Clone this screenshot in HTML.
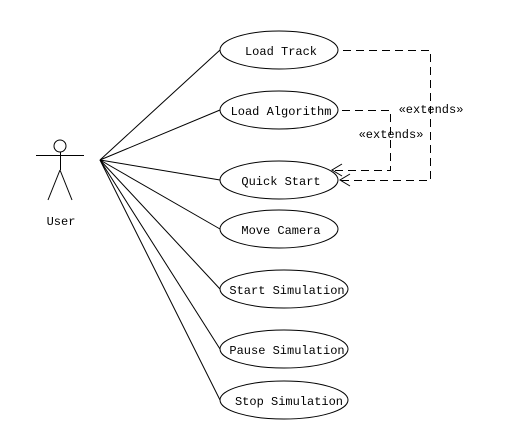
<!DOCTYPE html>
<html><head><style>body{margin:0;background:#fff}svg{display:block}text{font-family:"Liberation Mono",monospace;font-size:12px;fill:#000}</style></head><body>
<svg width="510" height="440" viewBox="0 0 510 440">
<g stroke="#000" fill="none" stroke-width="1">
<circle cx="60" cy="146" r="6"/>
<line x1="36" y1="155.5" x2="84" y2="155.5"/>
<line x1="60.5" y1="152" x2="60.5" y2="170"/>
<line x1="60" y1="170" x2="48" y2="200"/>
<line x1="60" y1="170" x2="72" y2="200"/>
<line x1="100" y1="160" x2="220" y2="50"/>
<line x1="100" y1="160" x2="220" y2="110"/>
<line x1="100" y1="160" x2="220" y2="180"/>
<line x1="100" y1="160" x2="220" y2="229"/>
<line x1="100" y1="160" x2="220" y2="289"/>
<line x1="100" y1="160" x2="220" y2="349"/>
<line x1="100" y1="160" x2="220" y2="400"/>
<ellipse cx="279" cy="50" rx="59" ry="19" fill="#fff"/>
<ellipse cx="279" cy="110" rx="59" ry="19" fill="#fff"/>
<ellipse cx="279" cy="180" rx="59" ry="19" fill="#fff"/>
<ellipse cx="279" cy="229" rx="59" ry="19" fill="#fff"/>
<ellipse cx="284" cy="289" rx="64" ry="19" fill="#fff"/>
<ellipse cx="284" cy="349" rx="64" ry="19" fill="#fff"/>
<ellipse cx="284" cy="400" rx="64" ry="19" fill="#fff"/>
<g shape-rendering="crispEdges">
<polyline points="343,50.5 430.5,50.5 430.5,180.5 341,180.5" stroke-dasharray="8,5"/>
<polyline points="342,110.5 390.5,110.5 390.5,170.5 333,170.5" stroke-dasharray="8,5"/>
</g>
<polyline points="350,174 340,180 350,186"/>
<polyline points="342,164 332,170 342,176"/>
</g>
<text x="61" y="225" text-anchor="middle">User</text>
<text x="281" y="55" text-anchor="middle">Load Track</text>
<text x="281" y="115" text-anchor="middle">Load Algorithm</text>
<text x="281" y="185" text-anchor="middle">Quick Start</text>
<text x="281" y="234" text-anchor="middle">Move Camera</text>
<text x="287" y="294" text-anchor="middle">Start Simulation</text>
<text x="287" y="354" text-anchor="middle">Pause Simulation</text>
<text x="289" y="405" text-anchor="middle">Stop Simulation</text>
<text x="431" y="113" text-anchor="middle">«extends»</text>
<text x="391" y="138" text-anchor="middle">«extends»</text>
</svg>
</body></html>
